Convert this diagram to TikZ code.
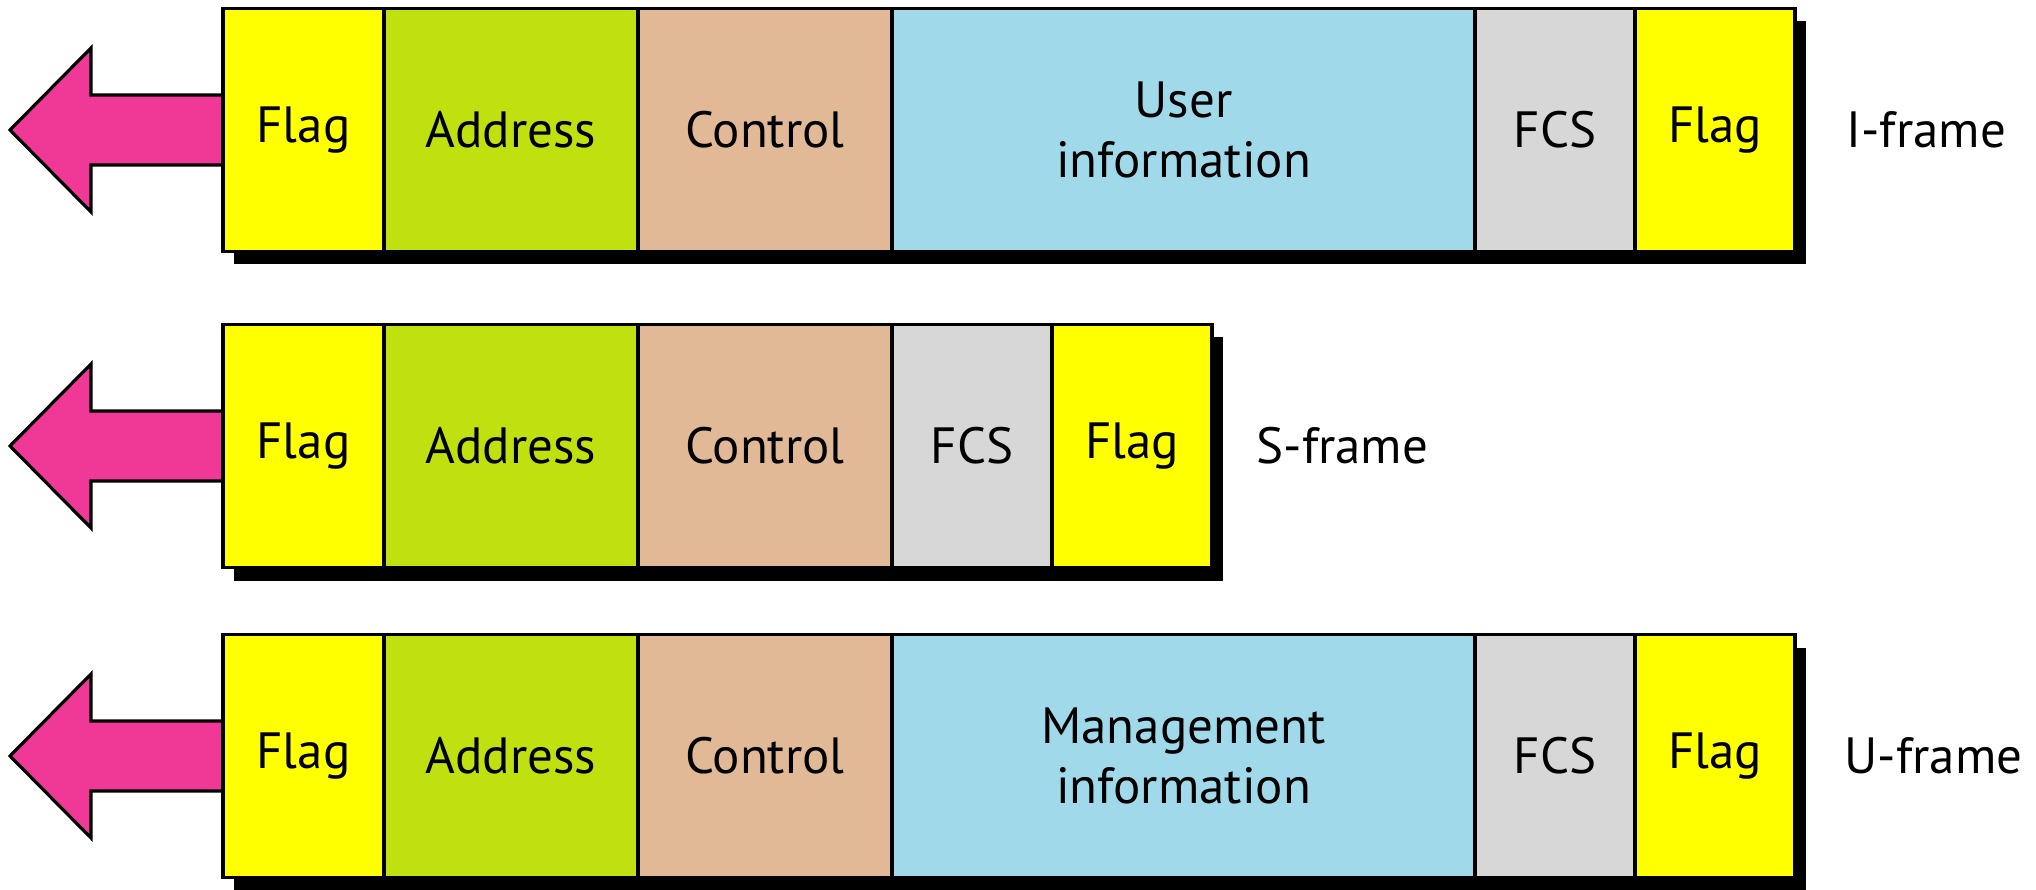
\documentclass[tikz,border=0pt]{standalone}
\usepackage{fontspec}
\setmainfont{PT Sans}
\usepackage{tikz}
\usetikzlibrary{positioning,calc,backgrounds}
\definecolor{flagyellow}{RGB}{255,255,0}
\definecolor{addrgreen}{RGB}{192,224,16}
\definecolor{ctrltan}{RGB}{226,185,150}
\definecolor{infoblue}{RGB}{160,218,234}
\definecolor{fcsgray}{RGB}{215,215,215}
\definecolor{arrowpink}{RGB}{240,56,150}
\tikzset{
  field/.style={draw=black, line width=0.9pt, minimum height=2.43cm,
    inner sep=0pt, outer sep=0pt, align=center,
    font=\fontsize{14.5}{17}\selectfont},
  flagfield/.style={field, fill=flagyellow, minimum width=1.61cm},
  addrfield/.style={field, fill=addrgreen, minimum width=2.54cm},
  ctrlfield/.style={field, fill=ctrltan, minimum width=2.54cm},
  infofield/.style={field, fill=infoblue, minimum width=5.83cm},
  fcsfield/.style={field, fill=fcsgray, minimum width=1.60cm},
  endflag/.style={field, fill=flagyellow, minimum width=1.60cm},
  framelabel/.style={anchor=west, inner sep=0pt,
    font=\fontsize{14.5}{17}\selectfont},
  frameshadow/.style={fill=black},
  framearrow/.style={draw=black, line width=0.9pt, fill=arrowpink,
    line join=miter},
}
\newcommand{\sendarrow}[1]{%
  \draw[framearrow] ($(#1.west)+(0,0.35)$) -- ++(-1.32,0) -- ++(0,0.47)
    -- ++(-0.81,-0.82) -- ++(0.81,-0.82) -- ++(0,0.47)
    -- ($(#1.west)+(0,-0.35)$);
}
\newcommand{\frameshade}[2]{%
  \fill[frameshadow] ($(#1.north west)+(0.11,-0.13)$)
    rectangle ($(#2.south east)+(0.11,-0.13)$);
}

\begin{document}
\begin{tikzpicture}[x=1cm, y=1cm]
\useasboundingbox (0,0) rectangle (20.36,-8.90);

%% ── I-frame ──────────────────────────────────────────────────────────────
\node[flagfield] (iflag) at (3.035,-1.30) {Flag};
\node[addrfield, right=0pt of iflag] (iaddr) {Address};
\node[ctrlfield, right=0pt of iaddr] (ictrl) {Control};
\node[infofield, right=0pt of ictrl] (iinfo) {User\\information};
\node[fcsfield, right=0pt of iinfo] (ifcs) {FCS};
\node[endflag, right=0pt of ifcs] (iend) {Flag};
\node[framelabel, right=0.51cm of iend] (ilabel) {I-frame};

%% ── S-frame ──────────────────────────────────────────────────────────────
\node[flagfield] (sflag) at (3.035,-4.46) {Flag};
\node[addrfield, right=0pt of sflag] (saddr) {Address};
\node[ctrlfield, right=0pt of saddr] (sctrl) {Control};
\node[fcsfield, right=0pt of sctrl] (sfcs) {FCS};
\node[endflag, right=0pt of sfcs] (send) {Flag};
\node[framelabel, right=0.44cm of send] (slabel) {S-frame};

%% ── U-frame ──────────────────────────────────────────────────────────────
\node[flagfield] (uflag) at (3.035,-7.56) {Flag};
\node[addrfield, right=0pt of uflag] (uaddr) {Address};
\node[ctrlfield, right=0pt of uaddr] (uctrl) {Control};
\node[infofield, right=0pt of uctrl] (uinfo) {Management\\information};
\node[fcsfield, right=0pt of uinfo] (ufcs) {FCS};
\node[endflag, right=0pt of ufcs] (uend) {Flag};
\node[framelabel, right=0.49cm of uend] (ulabel) {U-frame};

%% ── shadows and arrows ───────────────────────────────────────────────────
\begin{scope}[on background layer]
  \frameshade{iflag}{iend}
  \frameshade{sflag}{send}
  \frameshade{uflag}{uend}
  \sendarrow{iflag}
  \sendarrow{sflag}
  \sendarrow{uflag}
\end{scope}

\end{tikzpicture}
\end{document}
